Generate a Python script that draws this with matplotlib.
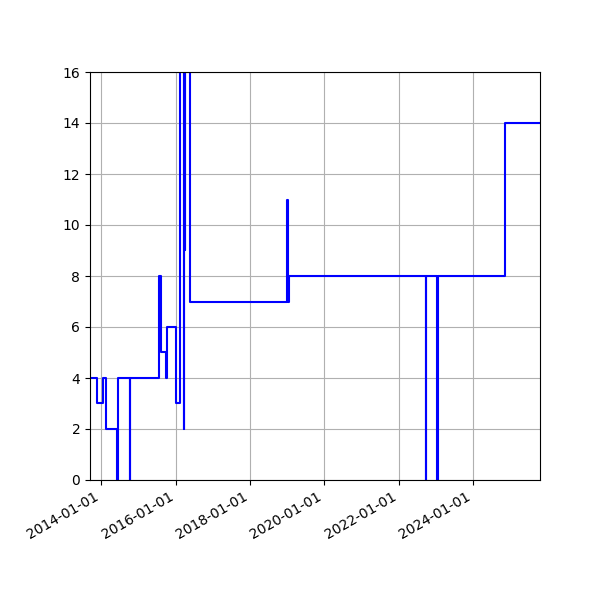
import numpy as np
import pandas as pd
import matplotlib
matplotlib.use("Agg")
import matplotlib.pyplot as plt
import matplotlib.dates as mdates

# step points (value holds until next date)
dates = ["2013-09-13", "2013-11-24", "2014-01-17", "2014-02-15", "2014-06-08",
         "2014-06-18", "2014-10-10", "2014-10-14", "2015-07-18", "2015-08-14",
         "2015-10-02", "2015-10-10", "2016-01-07", "2016-02-14", "2016-03-21",
         "2016-03-26", "2016-04-01", "2016-04-04", "2016-05-24", "2018-12-28",
         "2019-01-07", "2019-01-20", "2022-09-24", "2022-09-28", "2023-01-14",
         "2023-01-18", "2024-11-09", "2025-10-20"]
values = [4, 3, 4, 2, 0,
          4, 0, 4, 8, 5,
          4, 6, 3, 18, 2,
          18, 9, 18, 7, 11,
          7, 8, 0, 8, 0,
          8, 14, 14]

t = pd.to_datetime(dates)

fig = plt.figure(figsize=(6, 6), dpi=100)
ax = fig.add_subplot(111)
fig.subplots_adjust(left=0.15, right=0.9, top=0.88, bottom=0.2)

ax.step(t, values, where="post", color="blue", linewidth=1.5)
ax.set_ylim(0, 16)
ax.set_xlim(t[0], t[-1])
ax.xaxis.set_major_locator(mdates.YearLocator(2))
ax.xaxis.set_major_formatter(mdates.DateFormatter("%Y-%m-%d"))
ax.grid(True)
for lbl in ax.get_xticklabels():
    lbl.set_rotation(30)
    lbl.set_ha("right")

fig.savefig("out.png", dpi=100)
